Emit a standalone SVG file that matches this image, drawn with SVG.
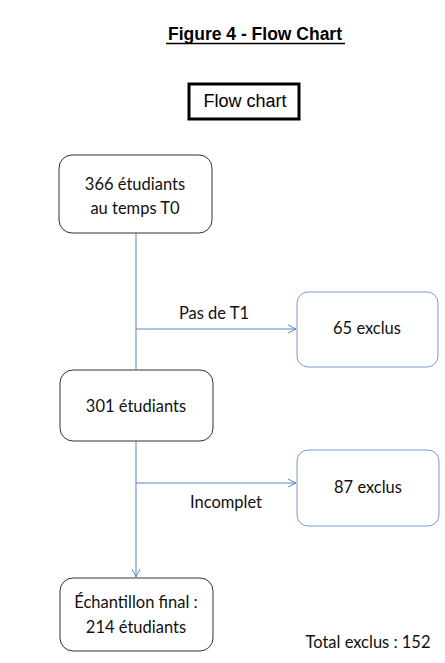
<svg xmlns="http://www.w3.org/2000/svg" width="445" height="663" viewBox="0 0 445 663">
<defs>
<style>
.node{fill:#fff;stroke:#333;stroke-width:1}
.ex{fill:#fff;stroke:#7a9ccd;stroke-width:1}
.t{font-family:Lato,"Open Sans",sans-serif;font-size:16.5px;fill:#111;text-anchor:middle}
.c{stroke:#5b86c0;stroke-width:1;fill:none}
</style>
<marker id="ah" viewBox="0 0 10 10" refX="9" refY="5" markerWidth="10" markerHeight="10" markerUnits="userSpaceOnUse" orient="auto">
<path d="M1,1 L9,5 L1,9" fill="none" stroke="#5b86c0" stroke-width="1"/>
</marker>
</defs>
<rect width="445" height="663" fill="#fff"/>
<g id="title">
<text x="255" y="40" font-family="Liberation Sans,Arial,sans-serif" font-size="17.5" font-weight="bold" text-anchor="middle" fill="#000">Figure 4 - Flow Chart</text>
<line x1="166" y1="43.5" x2="345" y2="43.5" stroke="#000" stroke-width="1.3"/>
</g>
<g id="flowchart-label">
<rect x="189" y="84" width="110" height="35" fill="#fff" stroke="#000" stroke-width="3"/>
<text x="245" y="107" font-family="Liberation Sans,Arial,sans-serif" font-size="18" text-anchor="middle" fill="#000">Flow chart</text>
</g>
<g id="connectors">
<line class="c" x1="136" y1="233" x2="136" y2="370"/>
<line class="c" x1="136" y1="329" x2="296" y2="329" marker-end="url(#ah)"/>
<line class="c" x1="136" y1="441" x2="136" y2="577" marker-end="url(#ah)"/>
<line class="c" x1="136" y1="483" x2="296" y2="483" marker-end="url(#ah)"/>
<text class="t" x="214" y="319">Pas de T1</text>
<text class="t" x="226" y="508">Incomplet</text>
</g>
<g id="n366">
<rect class="node" x="59" y="155" width="153" height="78" rx="13"/>
<text class="t" x="135" y="190">366 étudiants</text>
<text class="t" x="135" y="214">au temps T0</text>
</g>
<g id="n65">
<rect class="ex" x="297" y="292" width="141" height="75" rx="11"/>
<text class="t" x="367" y="334">65 exclus</text>
</g>
<g id="n301">
<rect class="node" x="60" y="370" width="153" height="71" rx="13"/>
<text class="t" x="136" y="412">301 étudiants</text>
</g>
<g id="n87">
<rect class="ex" x="297" y="450" width="142" height="76" rx="11"/>
<text class="t" x="368" y="493">87 exclus</text>
</g>
<g id="nfinal">
<rect class="node" x="60" y="578" width="153" height="73" rx="13"/>
<text class="t" x="136" y="608">Échantillon final :</text>
<text class="t" x="136" y="633">214 étudiants</text>
</g>
<g id="total">
<text class="t" x="368" y="648">Total exclus : 152</text>
</g>
</svg>
